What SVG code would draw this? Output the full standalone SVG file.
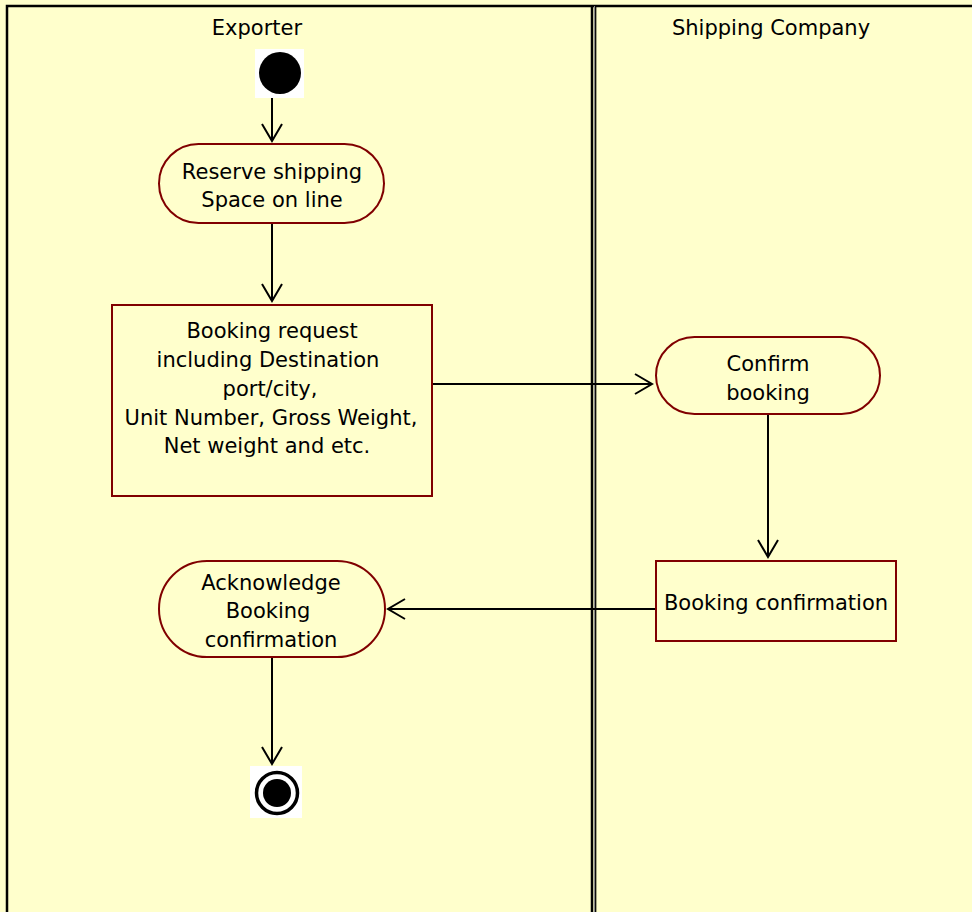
<svg xmlns="http://www.w3.org/2000/svg" width="972" height="912" viewBox="0 0 972 912">
<defs>
<style>
.lane{fill:#FFFFCC;}
.border{fill:none;stroke:#000;stroke-width:2.5;}
.node{fill:#FFFFCC;stroke:#800000;stroke-width:2;}
.t{font-family:"DejaVu Sans",Tahoma,sans-serif;font-size:21px;fill:#000;text-anchor:middle;}
.conn{fill:none;stroke:#000;stroke-width:2;marker-end:url(#arrow);}
</style>
<marker id="arrow" markerUnits="userSpaceOnUse" markerWidth="24" markerHeight="24" viewBox="-20 -12 24 24" refX="0" refY="0" orient="auto" overflow="visible">
<path d="M-17,-10 L0,0 L-17,10" fill="none" stroke="#000" stroke-width="2"/>
</marker>
</defs>
<rect x="0" y="0" width="972" height="912" class="lane"/>
<g id="lanes">
<path d="M7,912 L7,6 L972,6" class="border"/>
<line x1="592" y1="6" x2="592" y2="912" stroke="#000" stroke-width="2.5"/>
<line x1="594.5" y1="6" x2="594.5" y2="912" stroke="#888" stroke-width="1"/>
<line x1="595.7" y1="6" x2="595.7" y2="912" stroke="#000" stroke-width="1.3"/>
<text x="257" y="35" class="t">Exporter</text>
<text x="771" y="35" class="t">Shipping Company</text>
</g>
<g id="connectors">
<line x1="272" y1="98" x2="272" y2="141" class="conn"/>
<line x1="272" y1="224" x2="272" y2="301" class="conn"/>
<line x1="432" y1="384" x2="652" y2="384" class="conn"/>
<line x1="768" y1="415" x2="768" y2="557" class="conn"/>
<line x1="656" y1="609" x2="388" y2="609" class="conn"/>
<line x1="272" y1="658" x2="272" y2="764" class="conn"/>
</g>
<g id="start">
<rect x="255" y="49" width="49" height="49" fill="#fff"/>
<circle cx="280" cy="73" r="21" fill="#000"/>
</g>
<g id="reserve">
<rect x="159" y="144" width="225" height="79" rx="39.5" class="node"/>
<text x="272" y="179" class="t">Reserve shipping</text>
<text x="272" y="207" class="t">Space on line</text>
</g>
<g id="booking-request">
<rect x="112" y="305" width="320" height="191" class="node"/>
<text x="272" y="338" class="t">Booking request</text>
<text x="268" y="367" class="t">including Destination</text>
<text x="270" y="396" class="t">port/city,</text>
<text x="271" y="425" class="t">Unit Number, Gross Weight,</text>
<text x="267" y="453" class="t">Net weight and etc.</text>
</g>
<g id="confirm-booking">
<rect x="656" y="337" width="224" height="77" rx="38.5" class="node"/>
<text x="768" y="371" class="t">Confirm</text>
<text x="768" y="400" class="t">booking</text>
</g>
<g id="booking-confirmation">
<rect x="656" y="561" width="240" height="80" class="node"/>
<text x="776" y="610" class="t">Booking confirmation</text>
</g>
<g id="acknowledge">
<rect x="159" y="561" width="226" height="96" rx="48" class="node"/>
<text x="271" y="590" class="t">Acknowledge</text>
<text x="268" y="618" class="t">Booking</text>
<text x="271" y="647" class="t">confirmation</text>
</g>
<g id="end">
<rect x="250" y="766" width="52" height="52" fill="#fff"/>
<circle cx="277" cy="793" r="20.5" fill="none" stroke="#000" stroke-width="3.5"/>
<circle cx="277" cy="793" r="14" fill="#000"/>
</g>
</svg>
